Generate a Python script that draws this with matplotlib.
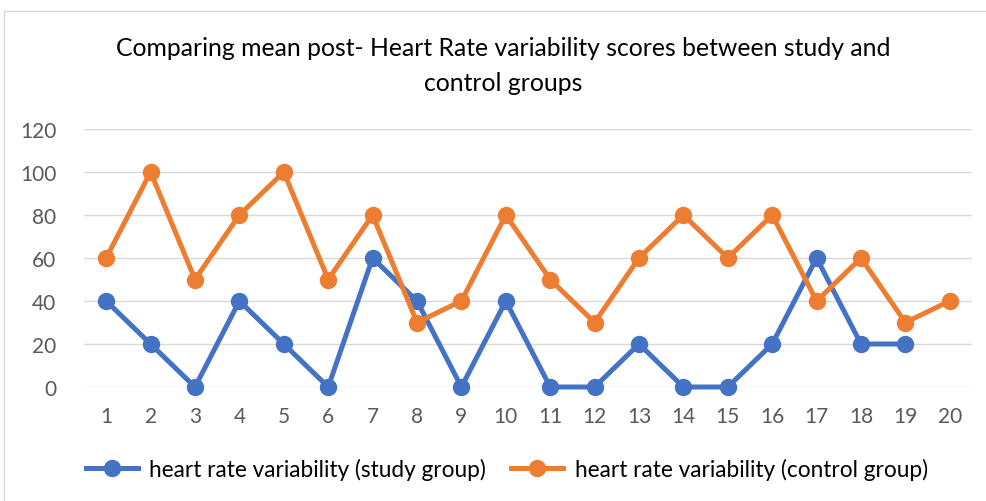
import matplotlib
matplotlib.use('Agg')
import matplotlib.pyplot as plt
from matplotlib.patches import Rectangle

plt.rcParams['font.family'] = ['Lato', 'DejaVu Sans']

categories = list(range(1, 21))
study = [40, 20, 0, 40, 20, 0, 60, 40, 0, 40, 0, 0, 20, 0, 0, 20, 60, 20, 20]
control = [60, 100, 50, 80, 100, 50, 80, 30, 40, 80, 50, 30, 60, 80, 60, 80, 40, 60, 30, 40]
title = 'Comparing mean post- Heart Rate variability scores between study and\ncontrol groups'
labels = ['heart rate variability (study group)', 'heart rate variability (control group)']

fig = plt.figure(figsize=(9.86, 5.02), dpi=100)
fig.patches.append(Rectangle((4 / 986, -0.01), 1.0, 1 - 12 / 502 + 0.01, transform=fig.transFigure,
                             fill=False, edgecolor='#d9d9d9', linewidth=1))
ax = fig.add_axes([84 / 986, 114 / 502, 888 / 986, 258 / 502])

ax.plot(categories[:len(study)], study, color='#4472C4', lw=3.6, marker='o', ms=11.5, label=labels[0])
ax.plot(categories, control, color='#ED7D31', lw=3.6, marker='o', ms=11.5, label=labels[1])

ax.set_xlim(0.5, 20.5)
ax.set_ylim(0, 120)
ax.set_yticks(range(0, 121, 20))
ax.set_xticks(categories)
ax.yaxis.grid(True, color='#d9d9d9', lw=1)
ax.set_axisbelow(True)
for s in ax.spines.values():
    s.set_visible(False)
ax.tick_params(length=0, labelsize=15, colors='#595959')
ax.tick_params(axis='x', pad=14)
ax.tick_params(axis='y', pad=20)
for ln in ax.lines:
    ln.set_clip_on(False)

fig.text(503 / 986, 1 - 66 / 502, title, ha='center', va='center', fontsize=17.8,
         color='#000000', linespacing=1.6)
fig.legend(loc='center', bbox_to_anchor=(0.514, 1 - 470 / 502), ncol=2, frameon=False,
           fontsize=16.3, handlelength=2.3, handletextpad=0.5, columnspacing=1.1)

fig.savefig('out.png', dpi=100)
